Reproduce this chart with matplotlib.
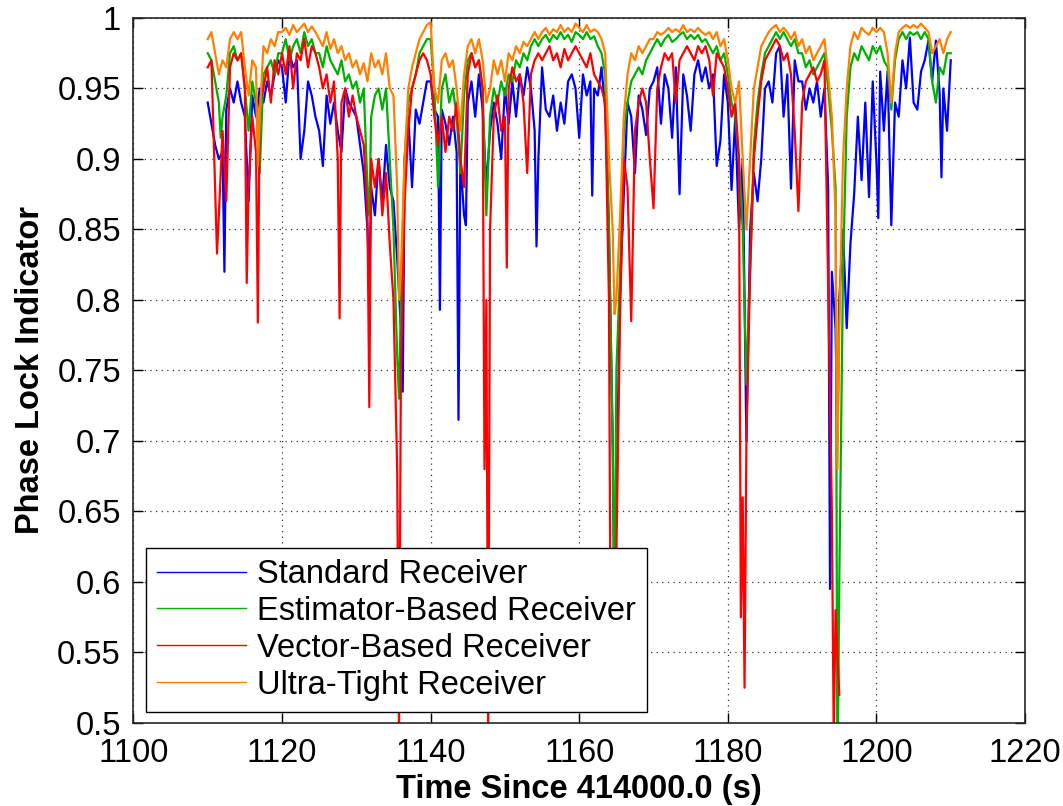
import numpy as np
import matplotlib
matplotlib.use('Agg')
import matplotlib.pyplot as plt

# Phase lock indicator, sampled every 0.5 s from t0, plus short narrow drops
t0 = 1110.0
step = 0.5

standard = [
    0.94, 0.925, 0.91, 0.9, 0.905, 0.935, 0.95, 0.94, 0.955, 0.94,
    0.93, 0.87, 0.945, 0.93, 0.95, 0.94, 0.955, 0.945, 0.96, 0.97,
    0.965, 0.94, 0.975, 0.965, 0.97, 0.9, 0.92, 0.955, 0.945, 0.93,
    0.92, 0.895, 0.945, 0.925, 0.94, 0.92, 0.905, 0.95, 0.94, 0.935,
    0.93, 0.91, 0.89, 0.85, 0.88, 0.86, 0.9, 0.87, 0.91, 0.88,
    0.87, 0.83, 0.78, 0.9, 0.93, 0.88, 0.935, 0.925, 0.94, 0.955,
    0.955, 0.935, 0.93, 0.935, 0.925, 0.91, 0.93, 0.905, 0.9, 0.86,
    0.94, 0.955, 0.93, 0.96, 0.935, 0.88, 0.92, 0.94, 0.925, 0.9,
    0.95, 0.925, 0.955, 0.93, 0.96, 0.945, 0.965, 0.95, 0.92, 0.9,
    0.965, 0.935, 0.93, 0.945, 0.92, 0.94, 0.925, 0.955, 0.96, 0.95,
    0.915, 0.96, 0.945, 0.955, 0.95, 0.945, 0.965, 0.935, 0.85, 0.7,
    0.66, 0.807, 0.875, 0.94, 0.93, 0.89, 0.945, 0.935, 0.917, 0.95,
    0.955, 0.965, 0.925, 0.96, 0.95, 0.915, 0.965, 0.875, 0.96, 0.945,
    0.92, 0.96, 0.97, 0.955, 0.965, 0.95, 0.96, 0.895, 0.913, 0.96,
    0.94, 0.878, 0.93, 0.85, 0.9, 0.7, 0.85, 0.89, 0.87, 0.9,
    0.95, 0.955, 0.94, 0.975, 0.98, 0.93, 0.96, 0.879, 0.97, 0.955,
    0.955, 0.935, 0.95, 0.94, 0.955, 0.93, 0.95, 0.88, 0.82, 0.78,
    0.8, 0.85, 0.78, 0.84, 0.875, 0.93, 0.885, 0.94, 0.873, 0.955,
    0.898, 0.962, 0.92, 0.962, 0.853, 0.94, 0.93, 0.97, 0.95, 0.986,
    0.94, 0.935, 0.962, 0.97, 0.984, 0.955, 0.984, 0.947, 0.95, 0.92,
    0.97,
]
standard_drop_t = [1112.25, 1131.75, 1136.25, 1141.25, 1143.75, 1144.75, 1154.25,
                   1161.75, 1164.75, 1193.75, 1194.75, 1200.25, 1208.75]
standard_drop_v = [0.82, 0.81, 0.735, 0.793, 0.715, 0.853, 0.838,
                   0.874, 0.58, 0.595, 0.7, 0.858, 0.887]

estimator = [
    0.975, 0.97, 0.955, 0.94, 0.93, 0.945, 0.975, 0.98, 0.97, 0.975,
    0.95, 0.92, 0.955, 0.94, 0.89, 0.96, 0.965, 0.97, 0.96, 0.975,
    0.975, 0.985, 0.97, 0.98, 0.985, 0.975, 0.99, 0.98, 0.985, 0.975,
    0.975, 0.965, 0.98, 0.97, 0.965, 0.96, 0.97, 0.955, 0.96, 0.95,
    0.955, 0.94, 0.95, 0.88, 0.93, 0.945, 0.95, 0.935, 0.95, 0.9,
    0.85, 0.76, 0.8, 0.9, 0.94, 0.95, 0.96, 0.975, 0.98, 0.985,
    0.985, 0.95, 0.88, 0.95, 0.96, 0.94, 0.95, 0.93, 0.89, 0.945,
    0.97, 0.975, 0.965, 0.97, 0.95, 0.86, 0.93, 0.95, 0.94, 0.955,
    0.945, 0.96, 0.955, 0.97, 0.965, 0.975, 0.97, 0.98, 0.985, 0.98,
    0.985, 0.988, 0.983, 0.988, 0.985, 0.99, 0.985, 0.988, 0.983, 0.99,
    0.988, 0.985, 0.99, 0.985, 0.987, 0.98, 0.975, 0.96, 0.85, 0.7,
    0.75, 0.82, 0.92, 0.94, 0.955, 0.96, 0.965, 0.96, 0.97, 0.975,
    0.98, 0.985, 0.98, 0.985, 0.988, 0.983, 0.985, 0.988, 0.99, 0.985,
    0.988, 0.985, 0.988, 0.983, 0.985, 0.98, 0.975, 0.98, 0.97, 0.975,
    0.96, 0.94, 0.93, 0.9, 0.85, 0.74, 0.82, 0.91, 0.94, 0.96,
    0.975, 0.98, 0.985, 0.99, 0.985, 0.99, 0.985, 0.98, 0.985, 0.975,
    0.975, 0.965, 0.97, 0.96, 0.965, 0.97, 0.975, 0.95, 0.92, 0.88,
    0.6, 0.82, 0.93, 0.965, 0.975, 0.97, 0.98, 0.975, 0.97, 0.98,
    0.975, 0.98, 0.97, 0.965, 0.935, 0.97, 0.985, 0.99, 0.985, 0.99,
    0.988, 0.99, 0.985, 0.99, 0.985, 0.955, 0.94, 0.965, 0.96, 0.975,
    0.975,
]
estimator_drop_t = [1111.75, 1131.75, 1135.75, 1164.75, 1194.75]
estimator_drop_v = [0.915, 0.86, 0.73, 0.56, 0.45]

vector = [
    0.965, 0.97, 0.88, 0.86, 0.92, 0.87, 0.965, 0.975, 0.97, 0.975,
    0.95, 0.88, 0.93, 0.905, 0.94, 0.95, 0.965, 0.94, 0.97, 0.96,
    0.975, 0.96, 0.98, 0.95, 0.975, 0.97, 0.985, 0.965, 0.98, 0.975,
    0.965, 0.95, 0.96, 0.94, 0.955, 0.9, 0.94, 0.95, 0.93, 0.945,
    0.93, 0.92, 0.91, 0.86, 0.9, 0.88, 0.9, 0.86, 0.89, 0.84,
    0.8, 0.68, 0.75, 0.87, 0.92, 0.95, 0.96, 0.97, 0.975, 0.97,
    0.96, 0.93, 0.91, 0.93, 0.905, 0.93, 0.92, 0.94, 0.9, 0.88,
    0.96, 0.975, 0.965, 0.97, 0.95, 0.8, 0.85, 0.93, 0.945, 0.92,
    0.93, 0.95, 0.965, 0.955, 0.96, 0.94, 0.89, 0.96, 0.97, 0.975,
    0.97, 0.975, 0.98, 0.97, 0.975, 0.965, 0.978, 0.97, 0.975, 0.98,
    0.975, 0.97, 0.965, 0.975, 0.96, 0.955, 0.95, 0.94, 0.8, 0.6,
    0.62, 0.79, 0.9, 0.88, 0.785, 0.92, 0.94, 0.95, 0.94, 0.9,
    0.865, 0.95, 0.965, 0.975, 0.97, 0.975, 0.94, 0.97, 0.975, 0.98,
    0.975, 0.97, 0.98, 0.975, 0.98, 0.97, 0.945, 0.975, 0.97, 0.965,
    0.95, 0.93, 0.94, 0.9, 0.66, 0.7, 0.82, 0.9, 0.93, 0.955,
    0.97, 0.975, 0.98, 0.985, 0.98, 0.97, 0.975, 0.96, 0.92, 0.863,
    0.94, 0.955, 0.96, 0.965, 0.955, 0.96, 0.97, 0.81, 0.65, 0.58,
    0.52,
]
vector_drop_t = [1111.25, 1115.25, 1116.75, 1127.75, 1131.75, 1135.75, 1147.25,
                 1147.75, 1150.25, 1164.25, 1181.75, 1182.25, 1194.25]
vector_drop_v = [0.833, 0.812, 0.784, 0.787, 0.724, 0.49, 0.68,
                 0.49, 0.823, 0.53, 0.575, 0.525, 0.49]

ultra = [
    0.985, 0.99, 0.975, 0.96, 0.97, 0.965, 0.985, 0.99, 0.985, 0.99,
    0.965, 0.945, 0.97, 0.965, 0.93, 0.98, 0.975, 0.985, 0.98, 0.99,
    0.99, 0.993, 0.988, 0.995, 0.99, 0.993, 0.996, 0.99, 0.994, 0.99,
    0.985, 0.98, 0.99, 0.978, 0.985, 0.975, 0.98, 0.97, 0.975, 0.965,
    0.97, 0.96, 0.968, 0.955, 0.975, 0.965, 0.97, 0.96, 0.975, 0.95,
    0.945, 0.88, 0.82, 0.9, 0.95, 0.965, 0.975, 0.985, 0.99, 0.995,
    0.997, 0.95, 0.94, 0.97, 0.975, 0.965, 0.97, 0.95, 0.92, 0.96,
    0.98, 0.985, 0.975, 0.985, 0.97, 0.94, 0.95, 0.97, 0.96, 0.97,
    0.955, 0.975, 0.97, 0.98, 0.975, 0.983, 0.98, 0.985, 0.99, 0.985,
    0.99, 0.993, 0.988, 0.992, 0.99, 0.995, 0.99, 0.993, 0.99, 0.996,
    0.993, 0.99, 0.995, 0.99, 0.992, 0.99, 0.985, 0.975, 0.9, 0.85,
    0.8, 0.86, 0.93, 0.96, 0.975, 0.97, 0.98, 0.975, 0.98, 0.985,
    0.985, 0.99, 0.988, 0.99, 0.993, 0.99, 0.992, 0.99, 0.995, 0.99,
    0.992, 0.99, 0.993, 0.99, 0.988, 0.99, 0.985, 0.99, 0.98, 0.985,
    0.97, 0.95, 0.94, 0.955, 0.9, 0.85, 0.9, 0.95, 0.965, 0.98,
    0.985, 0.99, 0.993, 0.995, 0.99, 0.993, 0.99, 0.985, 0.99, 0.98,
    0.985, 0.975, 0.98, 0.97, 0.975, 0.98, 0.985, 0.96, 0.93, 0.86,
    0.78, 0.9, 0.95, 0.98, 0.99, 0.985, 0.993, 0.99, 0.988, 0.993,
    0.99, 0.993, 0.99, 0.975, 0.94, 0.975, 0.99, 0.993, 0.995, 0.993,
    0.995, 0.993, 0.996, 0.993, 0.99, 0.975, 0.98, 0.985, 0.975, 0.985,
    0.99,
]
ultra_drop_t = [1116.75, 1135.75, 1164.75, 1194.75]
ultra_drop_v = [0.895, 0.80, 0.79, 0.68]

labels = ['Standard Receiver', 'Estimator-Based Receiver',
          'Vector-Based Receiver', 'Ultra-Tight Receiver']
colors = ['#0000FF', '#00B000', '#FF0000', '#FF8000']

xticks = [1100, 1120, 1140, 1160, 1180, 1200, 1220]
yticks = [0.5, 0.55, 0.6, 0.65, 0.7, 0.75, 0.8, 0.85, 0.9, 0.95, 1.0]
ytick_labels = ['0.5', '0.55', '0.6', '0.65', '0.7', '0.75', '0.8', '0.85', '0.9', '0.95', '1']


def series(base, drop_t, drop_v):
    t = t0 + step * np.arange(len(base))
    tt = np.concatenate([t, drop_t])
    vv = np.concatenate([base, drop_v])
    order = np.argsort(tt)
    return tt[order], vv[order]


plt.rcParams['font.family'] = ['Liberation Sans', 'DejaVu Sans']
plt.rcParams['font.size'] = 23.5

fig = plt.figure(figsize=(10.63, 8.06), dpi=100)
ax = fig.add_axes([0.1255, 0.103, 0.8388, 0.8747])

data = [(standard, standard_drop_t, standard_drop_v),
        (estimator, estimator_drop_t, estimator_drop_v),
        (vector, vector_drop_t, vector_drop_v),
        (ultra, ultra_drop_t, ultra_drop_v)]
for (base, dt, dv), lab, c in zip(data, labels, colors):
    t, v = series(base, dt, dv)
    ax.plot(t, v, color=c, lw=1.6, label=lab)

ax.set_xlim(1100, 1220)
ax.set_ylim(0.5, 1.0)
ax.set_xticks(xticks)
ax.set_xticklabels([str(x) for x in xticks])
ax.set_yticks(yticks)
ax.set_yticklabels(ytick_labels)

ax.grid(True, color='#333333', linestyle=(0, (1, 3.5)), linewidth=0.9)
ax.tick_params(direction='in', length=7, width=1, top=True, right=True)
ax.tick_params(axis='x', pad=11)
ax.tick_params(axis='y', pad=9)
for s in ax.spines.values():
    s.set_linewidth(1.2)
    s.set_color('#262626')

ax.set_xlabel('Time Since 414000.0 (s)', fontweight='bold')
ax.set_ylabel('Phase Lock Indicator', fontweight='bold')
ax.xaxis.set_label_coords(0.5, -0.072)
ax.yaxis.set_label_coords(-0.098, 0.5)

leg = ax.legend(loc='lower left', bbox_to_anchor=(0.0141, 0.0156), borderaxespad=0,
                fancybox=False, framealpha=1, edgecolor='black', handlelength=2.7,
                handletextpad=0.35, labelspacing=0.18, borderpad=0.35)
leg.get_frame().set_linewidth(1.0)
leg.set_zorder(10)
for line in leg.get_lines():
    line.set_linewidth(1.0)

fig.savefig('out.png', dpi=100)
